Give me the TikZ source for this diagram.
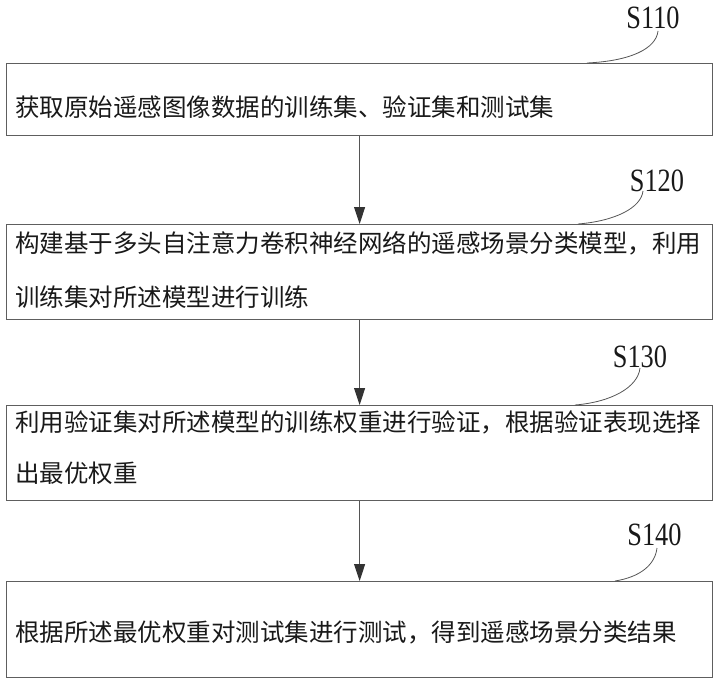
\documentclass[tikz,border=0pt]{standalone}
\usepackage{fontspec}
\newfontfamily\cjk{Noto Sans CJK SC}
\newfontfamily\labfont[FakeStretch=0.81]{Liberation Serif}
\usetikzlibrary{arrows.meta}
\definecolor{boxline}{HTML}{5E5E5E}
\definecolor{arrline}{HTML}{555555}
\definecolor{tipfill}{HTML}{333333}
\tikzset{
  stepbox/.style={draw=boxline, line width=1.2pt, fill=white, inner sep=0pt, anchor=north west},
  txt/.style={inner sep=0pt, anchor=west, align=left, text=black!90},
  lab/.style={inner sep=0pt, font=\labfont\fontsize{32.5}{34}\selectfont, text=black!90},
  flow/.style={draw=arrline, line width=1pt, -{Triangle[length=17pt,width=11pt,fill=tipfill,color=tipfill]}},
  lead/.style={draw=arrline, line width=0.8pt}
}
\begin{document}
\begin{tikzpicture}[x=1pt,y=-1pt]
\useasboundingbox (0,0) rectangle (714,679);
% boxes
\node[stepbox, minimum width=706pt, minimum height=72pt] (b1) at (6,63) {};
\node[stepbox, minimum width=706pt, minimum height=95pt] (b2) at (6,224) {};
\node[stepbox, minimum width=706pt, minimum height=95pt] (b3) at (6,405) {};
\node[stepbox, minimum width=706pt, minimum height=96pt] (b4) at (6,581) {};
% texts
\node[txt, font=\cjk\fontsize{24.5}{30}\selectfont] (t1) at (15,107) {获取原始遥感图像数据的训练集、验证集和测试集};
\node[txt, font=\cjk\fontsize{24.5}{54}\selectfont] (t2) at (15,270) {构建基于多头自注意力卷积神经网络的遥感场景分类模型，利用\\训练集对所述模型进行训练};
\node[txt, font=\cjk\fontsize{24.5}{51}\selectfont] (t3) at (15,447.5) {利用验证集对所述模型的训练权重进行验证，根据验证表现选择\\出最优权重};
\node[txt, font=\cjk\fontsize{24.5}{30}\selectfont] (t4) at (15,632) {根据所述最优权重对测试集进行测试，得到遥感场景分类结果};
% labels
\node[lab] (l1) at (653,18) {S110};
\node[lab] (l2) at (657,181) {S120};
\node[lab] (l3) at (640,357) {S130};
\node[lab] (l4) at (654.5,535) {S140};
% leader curve ends
\coordinate (c1s) at (658,31);  \coordinate (c1e) at (587,63);
\coordinate (c2s) at (643,191); \coordinate (c2e) at (578,224);
\coordinate (c3s) at (640,368); \coordinate (c3e) at (575,405);
\coordinate (c4s) at (657,548); \coordinate (c4e) at (615,581);
\draw[lead] (c1s) .. controls (656,49) and (630,61) .. (c1e);
\draw[lead] (c2s) .. controls (641,208) and (615,221) .. (c2e);
\draw[lead] (c3s) .. controls (638,387) and (612,402) .. (c3e);
\draw[lead] (c4s) .. controls (655,565) and (640,577) .. (c4e);
% arrows
\draw[flow] (b1.south) -- (b2.north);
\draw[flow] (b2.south) -- (b3.north);
\draw[flow] (b3.south) -- (b4.north);
\end{tikzpicture}
\end{document}
